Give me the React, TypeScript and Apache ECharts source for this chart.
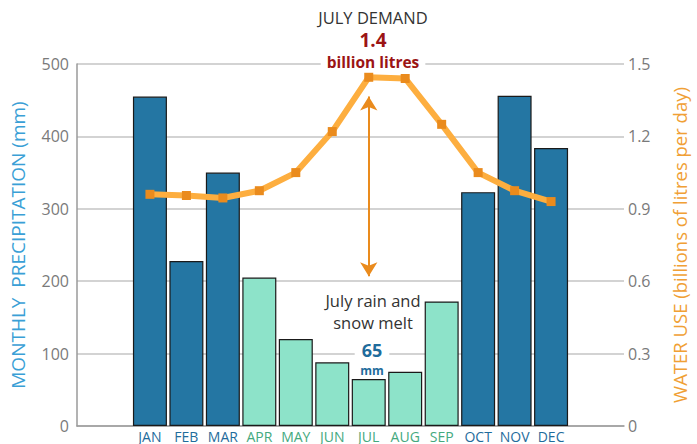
import React, { useEffect, useRef } from "react";
import * as echarts from "echarts";

const months = ["JAN", "FEB", "MAR", "APR", "MAY", "JUN", "JUL", "AUG", "SEP", "OCT", "NOV", "DEC"];
const wetMonth = [true, true, true, false, false, false, false, false, false, true, true, true];
const precipitation = [455, 228, 350, 205, 120, 88, 65, 75, 172, 323, 456, 384];
const waterUse = [0.96, 0.955, 0.945, 0.975, 1.05, 1.22, 1.445, 1.44, 1.25, 1.05, 0.975, 0.93];
const precipTicks = { min: 0, max: 500, interval: 100 };
const useTicks = { min: 0, max: 1.5, interval: 0.3 };

const FONT = "'Open Sans', Lato, sans-serif";
const BLUE = "#2476a3";
const GREEN = "#8de3c9";

export default function App() {
  const ref = useRef<HTMLDivElement>(null);
  useEffect(() => {
    if (!ref.current) return;
    const chart = echarts.init(ref.current, undefined, { renderer: "svg" });
    const barData = precipitation.map((v, i) => ({
      value: [i, v],
      itemStyle: { color: wetMonth[i] ? BLUE : GREEN },
    }));
    chart.setOption({
      animation: false,
      textStyle: { fontFamily: FONT },
      grid: { left: 76, right: 67, top: 64, bottom: 18, containLabel: false },
      xAxis: {
        type: "value",
        min: -2,
        max: 13,
        interval: 1,
        axisLine: { show: true, lineStyle: { color: "#9a9a9a", width: 1.5 } },
        axisTick: { show: false },
        splitLine: { show: false },
        axisLabel: {
          margin: 3,
          lineHeight: 14,
          formatter: (v: number) => {
            const i = Math.round(v);
            if (i < 0 || i > 11) return "";
            return `{${wetMonth[i] ? "w" : "d"}|${months[i]}}`;
          },
          rich: {
            w: { color: "#1f6c9c", fontSize: 14, lineHeight: 14, fontFamily: FONT },
            d: { color: "#44a97e", fontSize: 14, lineHeight: 14, fontFamily: FONT },
          },
        },
      },
      yAxis: [
        {
          type: "value",
          ...precipTicks,
          name: "MONTHLY  PRECIPITATION (mm)",
          nameLocation: "middle",
          nameGap: 50,
          nameTextStyle: { color: "#3a9fd6", fontSize: 19, fontFamily: FONT },
          axisLine: { show: true, onZero: false, lineStyle: { color: "#9a9a9a", width: 1.5 } },
          axisTick: { show: false },
          axisLabel: { color: "#7a7a7a", fontSize: 16, margin: 8, fontFamily: FONT },
          splitLine: { show: true, lineStyle: { color: "#c4c4c4", width: 1.5 } },
        },
        {
          type: "value",
          ...useTicks,
          position: "right",
          name: "WATER USE (billions of litres per day)",
          nameLocation: "middle",
          nameGap: 46,
          nameRotate: 90,
          nameTextStyle: { color: "#f0a035", fontSize: 18.5, fontFamily: FONT },
          axisLine: { show: false, onZero: false },
          axisTick: { show: false },
          axisLabel: {
            color: "#7a7a7a",
            fontSize: 16,
            margin: 4,
            fontFamily: FONT,
            formatter: (v: number) => (v === 0 ? "0" : v.toFixed(1)),
          },
          splitLine: { show: false },
        },
      ],
      series: [
        {
          type: "bar",
          yAxisIndex: 0,
          barWidth: 34,
          data: barData,
          itemStyle: { borderColor: "#1a1a1a", borderWidth: 1.2 },
          z: 2,
        },
        {
          type: "line",
          yAxisIndex: 1,
          data: waterUse.map((v, i) => [i, v]),
          lineStyle: { color: "#fdae3f", width: 6 },
          symbol: "rect",
          symbolSize: 9,
          itemStyle: { color: "#ea8b1d" },
          z: 3,
          markLine: {
            silent: true,
            symbol: ["arrow", "arrow"],
            symbolSize: [13, 14],
            label: { show: false },
            lineStyle: { color: "#ea8b1d", width: 2, type: "solid" },
            data: [[{ coord: [6, 1.365] }, { coord: [6, 0.62] }]],
          },
        },
      ],
      graphic: [
        {
          type: "text",
          x: 373,
          y: 17,
          style: {
            text: "JULY DEMAND",
            fill: "#333",
            font: `16.5px ${FONT}`,
            align: "center",
            verticalAlign: "middle",
            lineHeight: 16,
          },
        },
        {
          type: "text",
          x: 373,
          y: 40,
          style: {
            text: "1.4",
            fill: "#9b1414",
            font: `bold 19px ${FONT}`,
            align: "center",
            verticalAlign: "middle",
            lineHeight: 16,
          },
        },
        {
          type: "text",
          x: 373,
          y: 61.5,
          z: 10,
          style: {
            text: "billion litres",
            fill: "#9b1414",
            font: `bold 15.5px ${FONT}`,
            align: "center",
            verticalAlign: "middle",
            backgroundColor: "#fff",
            lineHeight: 14,
            padding: [1, 6],
          },
        },
        {
          type: "text",
          x: 373,
          y: 311,
          style: {
            text: "July rain and\nsnow melt",
            fill: "#333",
            font: `16.5px ${FONT}`,
            lineHeight: 22,
            align: "center",
            verticalAlign: "middle",
          },
        },
        {
          type: "text",
          x: 372,
          y: 350,
          z: 10,
          style: {
            text: "65",
            fill: "#1f6c9c",
            font: `bold 18px ${FONT}`,
            align: "center",
            verticalAlign: "middle",
            backgroundColor: "#fff",
            padding: [0, 7],
            lineHeight: 14,
          },
        },
        {
          type: "text",
          x: 372,
          y: 370,
          style: {
            text: "mm",
            fill: "#1f6c9c",
            font: `bold 12px ${FONT}`,
            align: "center",
            verticalAlign: "middle",
            lineHeight: 10,
          },
        },
      ],
    });
    return () => chart.dispose();
  }, []);
  return <div ref={ref} style={{ width: 697, height: 444, position: "absolute", left: 0, top: 0 }} />;
}
